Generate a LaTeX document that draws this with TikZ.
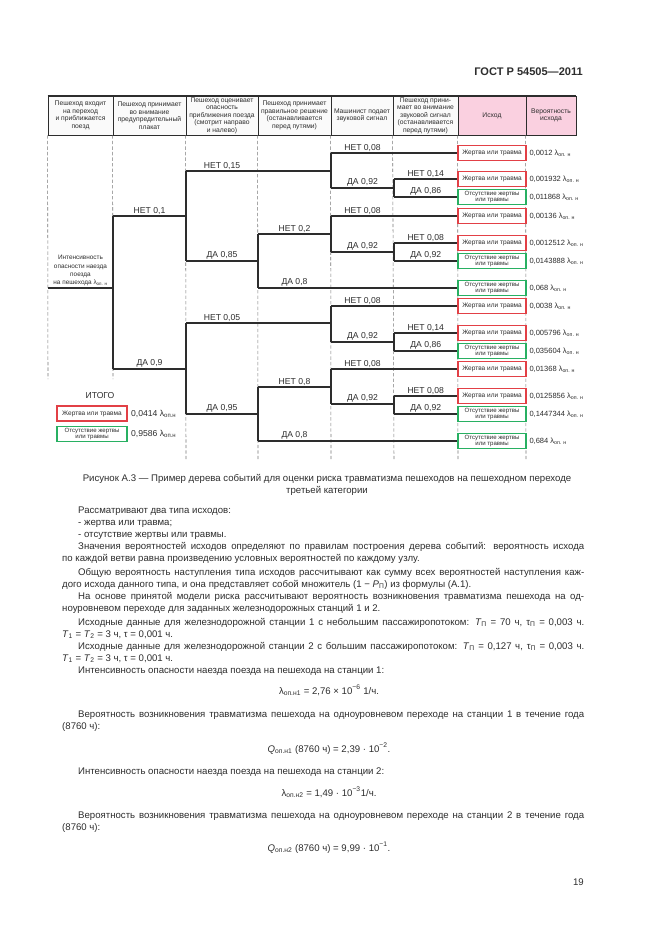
\documentclass[tikz,border=0pt]{standalone}
\usepackage{fontspec}
\setmainfont{Liberation Sans}
\usetikzlibrary{positioning}
\newlength{\pxd}
\setlength{\pxd}{0.0318cm}
\newcommand{\lop}{λ\textsubscript{оп. н}}
\newcommand{\lopn}{λ\textsubscript{оп.н}}
\definecolor{inkgray}{RGB}{45,45,45}
\definecolor{guidegray}{RGB}{120,120,120}
\definecolor{lossred}{RGB}{226,64,70}
\definecolor{safegreen}{RGB}{40,176,98}
\definecolor{hdrpink}{RGB}{250,208,224}

\begin{document}
\begin{tikzpicture}[
  x=0.0318cm, y=-0.0318cm,
  every node/.style={text=inkgray},
  hcell/.style={
    rectangle, draw=inkgray, line width=0.7pt, fill=gray!4, inner sep=0pt,
    minimum height=39*0.0318cm, align=center,
    font=\fontsize{6.1}{6.8}\selectfont
  },
  guide/.style={draw=guidegray, line width=0.5pt, dash pattern=on 3pt off 2pt},
  branch/.style={draw=inkgray, line width=1pt},
  lbl/.style={above, inner sep=1.2pt, font=\fontsize{7.8}{9}\selectfont},
  hurt/.style={
    rectangle, draw=lossred, line width=1pt, fill=white, inner sep=0pt,
    minimum width=68*0.0318cm, minimum height=15*0.0318cm, align=center,
    font=\fontsize{5.9}{6}\selectfont
  },
  safe/.style={hurt, draw=safegreen, font=\fontsize{5.5}{5.6}\selectfont},
  prob/.style={inner sep=0pt, font=\fontsize{6.8}{7.5}\selectfont},
  para/.style={anchor=base west, inner sep=0pt, font=\fontsize{8.7}{10}\selectfont},
  formula/.style={anchor=base, inner sep=0pt, font=\fontsize{8.7}{10}\selectfont}
]
\useasboundingbox[fill=white] (0,0) rectangle (661,936);

\node[anchor=base east, inner sep=0pt, font=\fontsize{10}{12}\selectfont\bfseries] (gost) at (583,76) {ГОСТ Р 54505—2011};

% header
\node[hcell, minimum width=65*0.0318cm] (h1) at (80.5,115.5) {Пешеход входит\\на переход\\и приближается\\поезд};
\node[hcell, minimum width=73*0.0318cm] (h2) at (149.5,115.5) {Пешеход принимает\\во внимание\\предупредительный\\плакат};
\node[hcell, minimum width=72*0.0318cm] (h3) at (222,115.5) {Пешеход оценивает\\опасность\\приближения поезда\\(смотрит направо\\и налево)};
\node[hcell, minimum width=73*0.0318cm] (h4) at (294.5,115.5) {Пешеход принимает\\правильное решение\\(останавливается\\перед путями)};
\node[hcell, minimum width=62*0.0318cm] (h5) at (362,115.5) {Машинист подает\\звуковой сигнал};
\node[hcell, minimum width=65*0.0318cm] (h6) at (425.5,115.5) {Пешеход прини-\\мает во внимание\\звуковой сигнал\\(останавливается\\перед путями)};
\node[hcell, minimum width=68*0.0318cm, fill=hdrpink] (h7) at (492,115.5) {Исход};
\node[hcell, minimum width=50*0.0318cm, fill=hdrpink] (h8) at (551,115.5) {Вероятность\\исхода};
\draw[inkgray, line width=1pt] (h1.north west) -- (h8.north east);

% column guides
\draw[guide] (h1.south west) -- (48,379);
\draw[guide] (h2.south west) -- (113,379);
\draw[guide] (h3.south west) -- (186,460);
\draw[guide] (h4.south west) -- (258,460);
\draw[guide] (h5.south west) -- (331,460);
\draw[guide] (h6.south west) -- (394,460);
\draw[guide] (h7.south west) -- (458,460);
\draw[guide] (h8.south west) -- (526,460);

% branch points
\coordinate (r) at (48,288);
\coordinate (aN) at (113,216);   \coordinate (aY) at (113,369);
\coordinate (bNN) at (186,171);  \coordinate (bNY) at (186,261);
\coordinate (bYN) at (186,323);  \coordinate (bYY) at (186,414);
\coordinate (cNYN) at (258,234); \coordinate (cNYY) at (258,288);
\coordinate (cYYN) at (258,387); \coordinate (cYYY) at (258,441);
\coordinate (d1N) at (331,153);  \coordinate (d1Y) at (331,188);
\coordinate (d2N) at (331,216);  \coordinate (d2Y) at (331,252);
\coordinate (d3N) at (331,306);  \coordinate (d3Y) at (331,342);
\coordinate (d4N) at (331,369);  \coordinate (d4Y) at (331,404);
\coordinate (e1N) at (394,179);  \coordinate (e1Y) at (394,197);
\coordinate (e2N) at (394,243);  \coordinate (e2Y) at (394,261);
\coordinate (e3N) at (394,333);  \coordinate (e3Y) at (394,351);
\coordinate (e4N) at (394,396);  \coordinate (e4Y) at (394,414);

% outcomes
\node[hurt] (o1) at (492,153) {Жертва или травма};
\node[hurt] (o2) at (492,179) {Жертва или травма};
\node[safe] (o3) at (492,197) {Отсутствие жертвы\\или травмы};
\node[hurt] (o4) at (492,216) {Жертва или травма};
\node[hurt] (o5) at (492,243) {Жертва или травма};
\node[safe] (o6) at (492,261) {Отсутствие жертвы\\или травмы};
\node[safe] (o7) at (492,288) {Отсутствие жертвы\\или травмы};
\node[hurt] (o8) at (492,306) {Жертва или травма};
\node[hurt] (o9) at (492,333) {Жертва или травма};
\node[safe] (o10) at (492,351) {Отсутствие жертвы\\или травмы};
\node[hurt] (o11) at (492,369) {Жертва или травма};
\node[hurt] (o12) at (492,396) {Жертва или травма};
\node[safe] (o13) at (492,414) {Отсутствие жертвы\\или травмы};
\node[safe] (o14) at (492,441) {Отсутствие жертвы\\или травмы};

\node[prob, right=2.5pt of o1] (p1) {0,0012 \lop};
\node[prob, right=2.5pt of o2] (p2) {0,001932 \lop};
\node[prob, right=2.5pt of o3] (p3) {0,011868 \lop};
\node[prob, right=2.5pt of o4] (p4) {0,00136 \lop};
\node[prob, right=2.5pt of o5] (p5) {0,0012512 \lop};
\node[prob, right=2.5pt of o6] (p6) {0,0143888 \lop};
\node[prob, right=2.5pt of o7] (p7) {0,068 \lop};
\node[prob, right=2.5pt of o8] (p8) {0,0038 \lop};
\node[prob, right=2.5pt of o9] (p9) {0,005796 \lop};
\node[prob, right=2.5pt of o10] (p10) {0,035604 \lop};
\node[prob, right=2.5pt of o11] (p11) {0,01368 \lop};
\node[prob, right=2.5pt of o12] (p12) {0,0125856 \lop};
\node[prob, right=2.5pt of o13] (p13) {0,1447344 \lop};
\node[prob, right=2.5pt of o14] (p14) {0,684 \lop};

% tree
\node[anchor=south, inner sep=1pt, align=center, font=\fontsize{5.8}{7.4}\selectfont] (src) at (80.5,287) {Интенсивность\\опасности наезда\\поезда\\на пешехода \lop};
\draw[branch] (r) -- (r -| aN);
\draw[branch] (aN) -- (aY);
\draw[branch] (aN) -- node[lbl] {НЕТ 0,1} (aN -| bNN);
\draw[branch] (aY) -- node[lbl] {ДА 0,9} (aY -| bNN);

\draw[branch] (bNN) -- (bNY);
\draw[branch] (bNN) -- node[lbl] {НЕТ 0,15} (bNN -| cNYN) -- (bNN -| d1N);
\draw[branch] (bNY) -- node[lbl] {ДА 0,85} (bNY -| cNYN);
\draw[branch] (bYN) -- (bYY);
\draw[branch] (bYN) -- node[lbl] {НЕТ 0,05} (bYN -| cYYN) -- (bYN -| d3N);
\draw[branch] (bYY) -- node[lbl] {ДА 0,95} (bYY -| cYYN);

\draw[branch] (cNYN) -- (cNYY);
\draw[branch] (cNYN) -- node[lbl] {НЕТ 0,2} (cNYN -| d2N);
\draw[branch] (cNYY) -- node[lbl] {ДА 0,8} (cNYY -| d2N) -- (o7);
\draw[branch] (cYYN) -- (cYYY);
\draw[branch] (cYYN) -- node[lbl] {НЕТ 0,8} (cYYN -| d4N);
\draw[branch] (cYYY) -- node[lbl] {ДА 0,8} (cYYY -| d4N) -- (o14);

\draw[branch] (d1N) -- (d1Y);
\draw[branch] (d1N) -- node[lbl] {НЕТ 0,08} (d1N -| e1N) -- (o1);
\draw[branch] (d1Y) -- node[lbl] {ДА 0,92} (d1Y -| e1N);
\draw[branch] (d2N) -- (d2Y);
\draw[branch] (d2N) -- node[lbl] {НЕТ 0,08} (d2N -| e2N) -- (o4);
\draw[branch] (d2Y) -- node[lbl] {ДА 0,92} (d2Y -| e2N);
\draw[branch] (d3N) -- (d3Y);
\draw[branch] (d3N) -- node[lbl] {НЕТ 0,08} (d3N -| e3N) -- (o8);
\draw[branch] (d3Y) -- node[lbl] {ДА 0,92} (d3Y -| e3N);
\draw[branch] (d4N) -- (d4Y);
\draw[branch] (d4N) -- node[lbl] {НЕТ 0,08} (d4N -| e4N) -- (o11);
\draw[branch] (d4Y) -- node[lbl] {ДА 0,92} (d4Y -| e4N);

\draw[branch] (e1N) -- (e1Y);
\draw[branch] (e1N) -- node[lbl] {НЕТ 0,14} (o2);
\draw[branch] (e1Y) -- node[lbl] {ДА 0,86} (o3);
\draw[branch] (e2N) -- (e2Y);
\draw[branch] (e2N) -- node[lbl] {НЕТ 0,08} (o5);
\draw[branch] (e2Y) -- node[lbl] {ДА 0,92} (o6);
\draw[branch] (e3N) -- (e3Y);
\draw[branch] (e3N) -- node[lbl] {НЕТ 0,14} (o9);
\draw[branch] (e3Y) -- node[lbl] {ДА 0,86} (o10);
\draw[branch] (e4N) -- (e4Y);
\draw[branch] (e4N) -- node[lbl] {НЕТ 0,08} (o12);
\draw[branch] (e4Y) -- node[lbl] {ДА 0,92} (o13);

% totals
\node[font=\fontsize{7.8}{9}\selectfont, inner sep=0pt] (tot) at (100,396) {ИТОГО};
\node[hurt, minimum width=70*0.0318cm] (th) at (92,413.5) {Жертва или травма};
\node[safe, minimum width=70*0.0318cm] (ts) at (92,434) {Отсутствие жертвы\\или травмы};
\node[prob, font=\fontsize{7.8}{9}\selectfont, right=3pt of th] (pth) {0,0414 \lopn};
\node[prob, font=\fontsize{7.8}{9}\selectfont, right=3pt of ts] (pts) {0,9586 \lopn};

% caption and text
\node[formula] (cap1) at (327,481) {Рисунок А.3 — Пример дерева событий для оценки риска травматизма пешеходов на пешеходном переходе};
\node[formula] (cap2) at (327,493) {третьей категории};

\node[para] (t1) at (78,513) {Рассматривают два типа исходов:};
\node[para] (t2) at (78,525) {- жертва или травма;};
\node[para] (t3) at (78,537) {- отсутствие жертвы или травмы.};
\node[para] (t4) at (78,549) {\makebox[506\pxd][s]{Значения вероятностей исходов определяют по правилам построения дерева событий: вероятность исхода}};
\node[para] (t5) at (62,561) {по каждой ветви равна произведению условных вероятностей по каждому узлу.};
\node[para] (t6) at (78,575) {\makebox[506\pxd][s]{Общую вероятность наступления типа исходов рассчитывают как сумму всех вероятностей наступления каж-}};
\node[para] (t7) at (62,587) {дого исхода данного типа, и она представляет собой множитель (1 − \textit{P}\textsubscript{П}) из формулы (А.1).};
\node[para] (t8) at (78,599) {\makebox[506\pxd][s]{На основе принятой модели риска рассчитывают вероятность возникновения травматизма пешехода на од-}};
\node[para] (t9) at (62,611) {ноуровневом переходе для заданных железнодорожных станций 1 и 2.};
\node[para] (t10) at (78,625) {\makebox[506\pxd][s]{Исходные данные для железнодорожной станции 1 с небольшим пассажиропотоком: \textit{T}\textsubscript{П} = 70 ч, τ\textsubscript{П} = 0,003 ч.}};
\node[para] (t11) at (62,637) {\textit{T}\textsubscript{1} = \textit{T}\textsubscript{2} = 3 ч, τ = 0,001 ч.};
\node[para] (t12) at (78,649) {\makebox[506\pxd][s]{Исходные данные для железнодорожной станции 2 с большим пассажиропотоком: \textit{T}\textsubscript{П} = 0,127 ч, τ\textsubscript{П} = 0,003 ч.}};
\node[para] (t13) at (62,661) {\textit{T}\textsubscript{1} = \textit{T}\textsubscript{2} = 3 ч, τ = 0,001 ч.};
\node[para] (t14) at (78,673) {Интенсивность опасности наезда поезда на пешехода на станции 1:};
\node[formula] (f1) at (329,694) {λ\textsubscript{оп.н1} = 2,76 × 10\textsuperscript{−6} 1/ч.};
\node[para] (t15) at (78,717) {\makebox[506\pxd][s]{Вероятность возникновения травматизма пешехода на одноуровневом переходе на станции 1 в течение года}};
\node[para] (t16) at (62,729) {(8760 ч):};
\node[formula] (f2) at (329,752) {\textit{Q}\textsubscript{оп.н1} (8760 ч) = 2,39 · 10\textsuperscript{−2}.};
\node[para] (t17) at (78,774) {Интенсивность опасности наезда поезда на пешехода на станции 2:};
\node[formula] (f3) at (329,796) {λ\textsubscript{оп.н2} = 1,49 · 10\textsuperscript{−3}1/ч.};
\node[para] (t18) at (78,818) {\makebox[506\pxd][s]{Вероятность возникновения травматизма пешехода на одноуровневом переходе на станции 2 в течение года}};
\node[para] (t19) at (62,830) {(8760 ч):};
\node[formula] (f4) at (329,851) {\textit{Q}\textsubscript{оп.н2} (8760 ч) = 9,99 · 10\textsuperscript{−1}.};

\node[anchor=base east, inner sep=0pt, font=\fontsize{8.7}{10}\selectfont] (pg) at (584,885) {19};
\end{tikzpicture}
\end{document}
